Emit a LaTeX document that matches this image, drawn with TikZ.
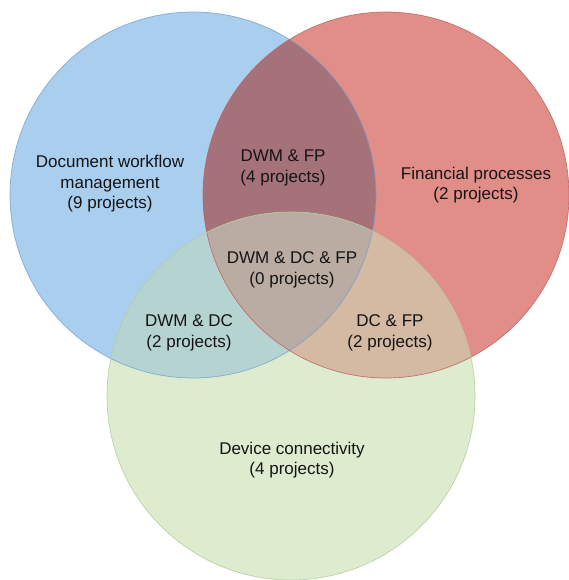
\documentclass[tikz,border=0pt]{standalone}
\usepackage{fontspec}
\setmainfont{Liberation Sans}
\definecolor{dwmfill}{RGB}{170,206,238}
\definecolor{fpfill}{RGB}{225,142,136}
\definecolor{dcfill}{RGB}{221,235,207}
\definecolor{dwmfpfill}{RGB}{166,114,122}
\definecolor{dwmdcfill}{RGB}{181,212,209}
\definecolor{dcfpfill}{RGB}{212,185,163}
\definecolor{allfill}{RGB}{186,172,163}
\definecolor{dwmline}{RGB}{118,160,205}
\definecolor{fpline}{RGB}{190,95,92}
\definecolor{dcline}{RGB}{176,205,150}
\def\dwmset{(193,195) circle (183pt)}
\def\fpset{(386,195) circle (183pt)}
\def\dcset{(291,396) circle (184pt)}
\tikzset{
  setlabel/.style={align=center,text=black!92,font=\fontsize{17}{20.5}\selectfont},
  setline/.style={line width=0.7pt,draw opacity=0.8}
}
\begin{document}
\begin{tikzpicture}[x=1pt,y=-1pt]
 \useasboundingbox (0,0) rectangle (568,580);
 % the three sets
 \fill[dwmfill] \dwmset;
 \fill[fpfill] \fpset;
 \begin{scope}
  \clip \fpset;
  \fill[dwmfpfill] \dwmset;
 \end{scope}
 \fill[dcfill] \dcset;
 \begin{scope}
  \clip \dcset;
  \fill[dwmdcfill] \dwmset;
  \fill[dcfpfill] \fpset;
  \clip \dwmset;
  \fill[allfill] \fpset;
 \end{scope}
 % outlines
 \draw[setline,dwmline] \dwmset;
 \draw[setline,fpline] \fpset;
 \draw[setline,dcline] \dcset;
 % labels
 \node[setlabel] (dwm) at (110,184) {Document workflow\\management\\(9 projects)};
 \node[setlabel] (fp) at (476,185) {Financial processes\\(2 projects)};
 \node[setlabel] (dc) at (292,460) {Device connectivity\\(4 projects)};
 \node[setlabel] (dwmfp) at (283,168) {DWM \& FP\\(4 projects)};
 \node[setlabel] (dwmdc) at (189,333) {DWM \& DC\\(2 projects)};
 \node[setlabel] (dcfp) at (390,333) {DC \& FP\\(2 projects)};
 \node[setlabel] (all) at (292,270) {DWM \& DC \& FP\\(0 projects)};
\end{tikzpicture}
\end{document}
